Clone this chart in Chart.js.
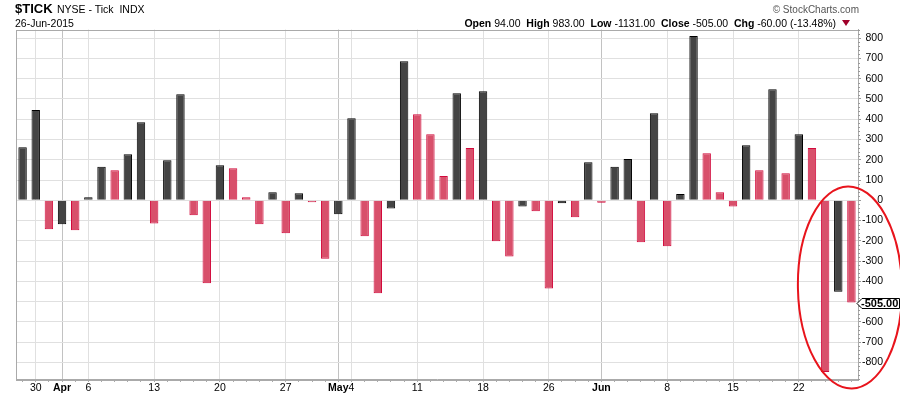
<!DOCTYPE html>
<html><head><meta charset="utf-8">
<script src="https://cdn.jsdelivr.net/npm/chart.js@4"></script>
<style>
html,body{margin:0;padding:0;background:#fff;}
#wrap{position:relative;width:900px;height:396px;overflow:hidden;font-family:"Liberation Sans",Arial,sans-serif;}
#c{position:absolute;left:0;top:0;}
.t{position:absolute;white-space:nowrap;line-height:1;color:#000;}
.b{font-weight:bold;}
.tri{display:inline-block;width:0;height:0;border-left:4px solid transparent;border-right:4px solid transparent;border-top:6px solid #a0002a;margin-left:3px;vertical-align:1px;}
</style></head><body>
<div id="wrap">
<canvas id="c" width="900" height="396"></canvas>
<div class="t b" style="left:15px;top:2.3px;font-size:13px;">$TICK</div>
<div class="t" style="left:57px;top:4.4px;font-size:10.5px;">NYSE - Tick&nbsp; INDX</div>
<div class="t" style="left:15px;top:17.8px;font-size:10.5px;">26-Jun-2015</div>
<div class="t" style="right:41px;top:5.2px;font-size:10px;color:#555;">© StockCharts.com</div>
<div class="t" style="right:50px;top:18px;font-size:10.5px;"><span class="b">Open</span> 94.00&nbsp; <span class="b">High</span> 983.00&nbsp; <span class="b">Low</span> -1131.00&nbsp; <span class="b">Close</span> -505.00&nbsp; <span class="b">Chg</span> -60.00 (-13.48%)&nbsp;<span class="tri"></span></div>
</div>
<script>
// ---- data ----
const categories = [
 '2015-03-27','2015-03-30','2015-03-31',
 '2015-04-01','2015-04-02','2015-04-06','2015-04-07','2015-04-08','2015-04-09','2015-04-10',
 '2015-04-13','2015-04-14','2015-04-15','2015-04-16','2015-04-17','2015-04-20','2015-04-21',
 '2015-04-22','2015-04-23','2015-04-24','2015-04-27','2015-04-28','2015-04-29','2015-04-30',
 '2015-05-01','2015-05-04','2015-05-05','2015-05-06','2015-05-07','2015-05-08','2015-05-11',
 '2015-05-12','2015-05-13','2015-05-14','2015-05-15','2015-05-18','2015-05-19','2015-05-20',
 '2015-05-21','2015-05-22','2015-05-26','2015-05-27','2015-05-28','2015-05-29',
 '2015-06-01','2015-06-02','2015-06-03','2015-06-04','2015-06-05','2015-06-08','2015-06-09',
 '2015-06-10','2015-06-11','2015-06-12','2015-06-15','2015-06-16','2015-06-17','2015-06-18',
 '2015-06-19','2015-06-22','2015-06-23','2015-06-24','2015-06-25','2015-06-26'
];
const tickValues = [
 262,446,-143,
 -118,-148,15,165,148,227,385,
 -114,198,523,-74,-410,173,158,
 15,-118,40,-163,35,-10,-288,
 -69,405,-178,-459,-40,686,425,
 326,120,528,258,538,-202,-277,
 -31,-54,-435,-15,-84,188,
 -12,165,204,-207,430,-227,31,
 811,232,40,-30,272,148,548,
 133,326,258,-848,-451,-505
];
const xTickLabels = [
 '','30','',
 'Apr','','6','','','','',
 '13','','','','','20','',
 '','','','27','','','',
 'May','4','','','','','11',
 '','','','','18','','',
 '','','26','','','',
 'Jun','','','','','8','',
 '','','','15','','','',
 '','22','','','',''
];
const monthLabels = ['Apr','May','Jun'];
const yTicks = [-800,-700,-600,-500,-400,-300,-200,-100,0,100,200,300,400,500,600,700,800];
const yMin = -882, yMax = 843;
const lastValueLabel = '-505.00';

// ---- styles ----
const FONT = '"Liberation Sans", Arial, sans-serif';
const upFill = '#444444', upBorder = '#000000';
const downFill = '#d8506b', downBorder = '#d20a3c';
const isUp = tickValues.map((v,i) => i === 0 || v >= tickValues[i-1]);
const lastVal = tickValues[tickValues.length-1];

const framePlugin = {
  id:'frame',
  beforeDatasetsDraw(chart){
    const {ctx, chartArea:a, scales:{y}} = chart;
    ctx.save();
    ctx.strokeStyle = '#aaaaaa'; ctx.lineWidth = 1;
    ctx.strokeRect(Math.round(a.left)+0.5, Math.round(a.top)+0.5, Math.round(a.right-a.left), Math.round(a.bottom-a.top));
    ctx.strokeStyle = '#999999';
    ctx.beginPath();
    for (let v = -880; v <= 840; v += 20) {
      if (v % 100 === 0) continue;
      const py = Math.round(y.getPixelForValue(v)) + 0.5;
      ctx.moveTo(a.right, py); ctx.lineTo(a.right + 2, py);
    }
    ctx.stroke();
    ctx.restore();
  },
  afterDraw(chart){
    const {ctx, chartArea:a, scales:{x, y}} = chart;
    const n = tickValues.length;
    ctx.save();
    ctx.strokeStyle = '#e8141c'; ctx.lineWidth = 2;
    ctx.beginPath();
    ctx.ellipse(x.getPixelForValue(n-1) - 1.5, y.getPixelForValue(-430), 52, 101, -0.02, 0, Math.PI*2);
    ctx.stroke();
    const py = Math.round(y.getPixelForValue(lastVal)) + 0.5;
    const x0 = a.right - 1;
    ctx.beginPath();
    ctx.moveTo(x0, py);
    ctx.lineTo(x0 + 5, py - 5);
    ctx.lineTo(899.5, py - 5);
    ctx.lineTo(899.5, py + 5);
    ctx.lineTo(x0 + 5, py + 5);
    ctx.closePath();
    ctx.fillStyle = '#ffffff'; ctx.fill();
    ctx.strokeStyle = '#000000'; ctx.lineWidth = 1; ctx.stroke();
    ctx.fillStyle = '#000000';
    ctx.font = 'bold 11px ' + FONT;
    ctx.textBaseline = 'middle'; ctx.textAlign = 'left';
    ctx.fillText(lastValueLabel, x0 + 4, py + 0.5);
    ctx.restore();
  }
};

new Chart(document.getElementById('c'), {
  type:'bar',
  data:{
    labels: categories,
    datasets:[{
      data: tickValues,
      backgroundColor: isUp.map(u => u ? upFill : downFill),
      borderColor: isUp.map(u => u ? upBorder : downBorder),
      borderWidth: 1,
      barPercentage: 0.64,
      categoryPercentage: 1.0
    }]
  },
  options:{
    responsive:false, animation:false, devicePixelRatio:1,
    layout:{padding:{left:16, right:17, top:29.5, bottom:0}},
    plugins:{legend:{display:false}, tooltip:{enabled:false}},
    scales:{
      x:{
        offset:true,
        afterFit(s){ s.height = 17; },
        grid:{
          offset:false,
          color: c => {
            const l = xTickLabels[c.index];
            if (!l) return 'rgba(0,0,0,0)';
            return monthLabels.includes(l) ? '#c2c2c2' : '#e0e0e0';
          },
          tickColor:'#aaaaaa', tickLength:3, drawTicks:true
        },
        border:{display:true, color:'#aaaaaa'},
        ticks:{
          autoSkip:false, maxRotation:0, minRotation:0, padding:0,
          callback:(v,i) => xTickLabels[i],
          color:'#000',
          font: c => ({family:FONT, size:10.5, weight: monthLabels.includes(xTickLabels[c.index]) ? 'bold' : 'normal'})
        }
      },
      y:{
        position:'right', min:yMin, max:yMax,
        afterBuildTicks(s){ s.ticks = yTicks.map(v => ({value:v})); },
        afterFit(s){ s.width = 25; },
        grid:{color:'#e0e0e0', tickColor:'#999999', tickLength:3, drawTicks:true},
        border:{display:true, color:'#aaaaaa'},
        ticks:{
          crossAlign:'far', padding:2, color:'#000', font:{family:FONT, size:10.5},
          callback: v => Math.abs(v - lastVal) < 50 ? '' : String(v)
        }
      }
    }
  },
  plugins:[framePlugin]
});
</script>
</body></html>
